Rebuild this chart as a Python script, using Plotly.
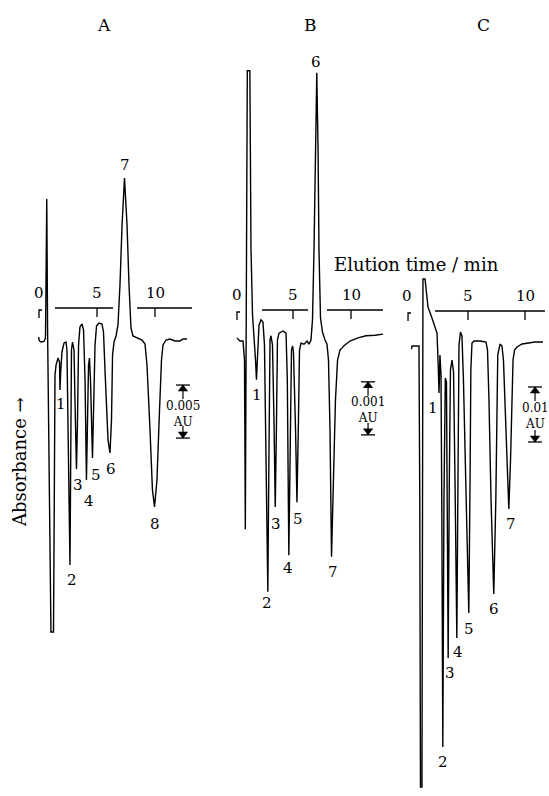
import plotly.graph_objects as go

# ---------------- data (time in min, absorbance in mAU relative to baseline) ----------------
# Panel A  (scale bar = 0.005 AU)
A_trace = [(-0.04, 0.28), (0.04, -0.09), (0.17, -0.19), (0.43, -0.14), (0.56, 0.19), (0.67, 13.30),
           (0.74, 0.94), (0.95, -24.53), (1.03, -27.55), (1.25, -27.55), (1.34, -10.38), (1.38, -3.30),
           (1.47, -2.36), (1.64, -1.70), (1.77, -2.08), (1.81, -4.72), (1.87, -3.02), (1.98, -1.13),
           (2.16, -0.28), (2.33, -0.19), (2.41, -0.94), (2.54, -10.38), (2.67, -21.23), (2.74, -10.38),
           (2.80, -0.94), (2.89, -0.19), (3.02, -0.94), (3.10, -5.66), (3.23, -12.17), (3.32, -7.55),
           (3.41, -0.47), (3.53, 1.23), (3.71, 1.51), (3.84, 0.94), (3.97, -3.77), (4.09, -13.21),
           (4.18, -8.49), (4.27, -2.36), (4.35, -1.70), (4.44, -3.77), (4.61, -11.13), (4.70, -7.55),
           (4.83, -0.47), (4.96, 1.32), (5.17, 1.60), (5.43, 1.51), (5.56, 0.75), (5.69, -2.83),
           (5.95, -9.43), (6.12, -10.66), (6.25, -7.55), (6.34, -1.42), (6.47, -0.19), (6.64, 0.38),
           (6.81, 1.42), (6.98, 5.19), (7.16, 10.85), (7.37, 15.28), (7.59, 10.85), (7.76, 5.19),
           (7.93, 1.13), (8.10, 0.38), (8.45, 0.19), (8.88, 0.00), (9.14, -0.38), (9.31, -2.36),
           (9.57, -8.49), (9.78, -14.15), (9.96, -15.75), (10.17, -13.21), (10.39, -6.60), (10.56, -1.89),
           (10.69, -0.47), (10.95, 0.00), (11.29, 0.09), (11.72, -0.09), (12.16, -0.09), (12.41, 0.09),
           (12.76, 0.09)]
A_peaks = ["1", "2", "3", "4", "5", "6", "7", "8"]
A_peak_time = [1.90, 2.84, 3.36, 4.31, 4.91, 6.21, 7.41, 10.00]
A_peak_abs = [-6.04, -22.64, -13.68, -15.19, -12.74, -12.17, 16.51, -17.36]

# Panel B  (scale bar = 0.001 AU)
B_trace = [(0.17, 0.04), (0.43, -0.02), (0.69, -0.02), (0.82, -0.38), (0.89, -3.57), (0.95, -1.13),
           (1.06, 5.08), (1.28, 5.08), (1.38, 1.70), (1.51, 0.47), (1.64, 0.09), (1.77, -0.38),
           (1.85, -0.75), (1.94, -0.28), (2.07, 0.28), (2.24, 0.38), (2.41, 0.34), (2.54, -0.09),
           (2.67, -2.08), (2.83, -4.75), (2.93, -2.08), (3.02, 0.00), (3.10, 0.08), (3.23, -0.09),
           (3.36, -1.51), (3.47, -3.15), (3.58, -1.51), (3.66, 0.00), (3.79, 0.13), (4.14, 0.17),
           (4.40, 0.13), (4.51, -0.75), (4.64, -4.06), (4.77, -1.13), (4.87, -0.19), (4.96, -0.11),
           (5.04, -0.23), (5.22, -1.70), (5.34, -3.06), (5.47, -1.51), (5.56, -0.19), (5.69, -0.06),
           (5.95, -0.08), (6.21, -0.02), (6.38, -0.08), (6.55, 0.00), (6.68, 0.38), (6.81, 1.70),
           (6.94, 3.58), (7.05, 5.04), (7.16, 3.58), (7.24, 1.70), (7.37, 0.42), (7.54, 0.15),
           (7.76, 0.00), (7.93, -0.08), (8.06, -0.38), (8.19, -1.70), (8.32, -4.09), (8.49, -2.64),
           (8.66, -1.13), (8.84, -0.38), (9.05, -0.19), (9.40, -0.11), (9.91, -0.02), (10.60, 0.04),
           (11.29, 0.08), (12.07, 0.09), (12.76, 0.11)]
B_peaks = ["1", "2", "3", "4", "5", "6", "7"]
B_peak_time = [1.90, 2.76, 3.53, 4.57, 5.43, 6.98, 8.45]
B_peak_abs = [-1.04, -4.96, -3.47, -4.30, -3.38, 5.25, -4.38]

# Panel C  (scale bar = 0.01 AU)
C_trace = [(0.04, -0.55), (0.09, 0.00), (0.70, 0.00), (0.77, -28.0), (0.83, -80.18), (0.96, -80.18),
           (1.01, -28.0), (1.05, 12.18), (1.23, 12.18), (1.32, 10.18), (1.49, 7.09), (1.84, 5.09),
           (2.11, 3.45), (2.28, 2.36), (2.37, -2.55), (2.46, -8.55), (2.54, -1.64), (2.63, -5.27),
           (2.70, -28.0), (2.79, -72.91), (2.89, -28.0), (3.01, -5.82), (3.11, -6.55), (3.18, -28.0),
           (3.26, -56.73), (3.36, -24.36), (3.46, -4.36), (3.60, -2.55), (3.73, -4.73), (3.86, -24.36),
           (4.02, -53.09), (4.12, -24.36), (4.21, 0.18), (4.34, 2.55), (4.47, 1.82), (4.60, -6.18),
           (4.78, -24.36), (5.07, -48.55), (5.18, -24.36), (5.25, -4.36), (5.35, 0.55), (5.53, 0.91),
           (6.05, 0.91), (6.58, 0.73), (6.71, -0.73), (6.84, -9.82), (7.02, -28.0), (7.26, -45.09),
           (7.44, -28.0), (7.53, -9.82), (7.61, -1.64), (7.81, 0.36), (7.98, 0.00), (8.11, -2.55),
           (8.25, -9.82), (8.42, -20.73), (8.58, -29.64), (8.73, -20.73), (8.86, -9.82), (8.95, -2.55),
           (9.08, -0.73), (9.30, -0.18), (9.74, 0.36), (10.18, 0.55), (10.88, 0.73), (11.58, 0.73)]
C_peaks = ["1", "2", "3", "4", "5", "6", "7"]
C_peak_time = [1.93, 2.81, 3.42, 4.12, 5.09, 7.28, 8.77]
C_peak_abs = [-11.27, -75.64, -59.45, -55.64, -51.45, -47.82, -32.36]

# time-axis tick labels and scale-bar labels
tick_values = [5, 10]
tick_text = ["5", "10"]
zero_text = "0"
panel_titles = ["A", "B", "C"]
scale_bar_mAU = [5, 1, 10]
scale_bar_text = ["0.005", "0.001", "0.01"]

# ---------------- layout / geometry ----------------
W, H = 549, 796
FONT = "DejaVu Serif"
panels = [
    dict(trace=A_trace, labels=A_peaks, lt=A_peak_time, lv=A_peak_abs,
         xr=[-3.362, 43.966], yr=[-43.019, 32.075],
         axis_v=3.02, segs=[(1.38, 6.38), (8.45, 13.19)], zero_t=0.0, mark_t=0.0,
         bar_t=12.41, bar_top=-4.25, title_x=104, title_y=25),
    dict(trace=B_trace, labels=B_peaks, lt=B_peak_time, lv=B_peak_abs,
         xr=[-20.259, 27.069], yr=[-8.604, 6.415],
         axis_v=0.566, segs=[(2.33, 6.29), (7.93, 12.76)], zero_t=0.17, mark_t=0.17,
         bar_t=11.47, bar_top=-0.79, title_x=310, title_y=25),
    dict(trace=C_trace, labels=C_peaks, lt=C_peak_time, lv=C_peak_abs,
         xr=[-36.053, 12.105], yr=[-81.818, 62.909],
         axis_v=6.36, segs=[(2.11, 11.75)], zero_t=-0.33, mark_t=-0.26,
         bar_t=10.88, bar_top=-7.45, title_x=483, title_y=25),
]

fig = go.Figure()
ann = []
LINE = dict(color="black", width=1.4)

for i, p in enumerate(panels):
    xa = "x" if i == 0 else f"x{i+1}"
    ya = "y" if i == 0 else f"y{i+1}"
    upx = (p["yr"][1] - p["yr"][0]) / H   # data units per pixel (y)
    mpx = (p["xr"][1] - p["xr"][0]) / W   # minutes per pixel (x)

    def add(xs, ys, **kw):
        d = dict(x=xs, y=ys, mode="lines", line=LINE, xaxis=xa, yaxis=ya,
                 hoverinfo="skip", showlegend=False)
        d.update(kw)
        fig.add_trace(go.Scatter(**d))

    # chromatogram
    add([t for t, v in p["trace"]], [v for t, v in p["trace"]])

    # time axis segments + ticks
    av = p["axis_v"]
    for s0, s1 in p["segs"]:
        add([s0, s1], [av, av], line=dict(color="black", width=1.3))
    for tv, tt in zip(tick_values, tick_text):
        add([tv, tv], [av, av - 9 * upx], line=dict(color="black", width=1.3))
        ann.append(dict(x=tv, y=av, xref=xa, yref=ya, text=tt, showarrow=False,
                        xanchor="center", yanchor="middle",
                        yshift=15, font=dict(family=FONT, size=15, color="black")))
    ann.append(dict(x=p["zero_t"], y=av, xref=xa, yref=ya, text=zero_text, showarrow=False,
                    xanchor="center", yanchor="middle",
                    yshift=15, font=dict(family=FONT, size=15, color="black")))
    # injection mark
    mt = p["mark_t"]
    add([mt + 3 * mpx, mt, mt], [av - 2 * upx, av - 2 * upx, av - 10 * upx],
        line=dict(color="black", width=1.3))

    # peak labels
    for lab, t, v in zip(p["labels"], p["lt"], p["lv"]):
        ann.append(dict(x=t, y=v, xref=xa, yref=ya, text=lab, showarrow=False,
                        xanchor="center", yanchor="middle",
                        font=dict(family=FONT, size=15, color="black")))

    # scale bar
    bt, top, hgt = p["bar_t"], p["bar_top"], scale_bar_mAU[i]
    bot = top - hgt
    hw = 7 * mpx
    add([bt - hw, bt + hw], [top, top], line=dict(color="black", width=1.3))
    add([bt - hw, bt + hw], [bot, bot], line=dict(color="black", width=1.3))
    add([bt, bt], [top, top - 14 * upx], line=dict(color="black", width=1.2))
    add([bt, bt], [bot, bot + 12 * upx], line=dict(color="black", width=1.2))
    add([bt], [top - 4 * upx], mode="markers",
        marker=dict(symbol="triangle-up", size=9, color="black"))
    add([bt], [bot + 4 * upx], mode="markers",
        marker=dict(symbol="triangle-down", size=9, color="black"))
    ann.append(dict(x=bt, y=(top + bot) / 2, xref=xa, yref=ya,
                    text=scale_bar_text[i] + "<br>AU", showarrow=False,
                    xanchor="center", yanchor="middle", yshift=-2,
                    font=dict(family=FONT, size=12, color="black")))

    # panel letter
    ann.append(dict(x=p["title_x"] / W, y=1 - p["title_y"] / H, xref="paper", yref="paper",
                    text=panel_titles[i], showarrow=False,
                    xanchor="center", yanchor="middle",
                    font=dict(family=FONT, size=17, color="black")))

ann.append(dict(x=416 / W, y=1 - 264 / H, xref="paper", yref="paper",
                text="Elution time / min", showarrow=False,
                xanchor="center", yanchor="middle",
                font=dict(family=FONT, size=18, color="black")))
ann.append(dict(x=19 / W, y=1 - 462 / H, xref="paper", yref="paper",
                text="Absorbance \u2192", showarrow=False, textangle=-90,
                xanchor="center", yanchor="middle",
                font=dict(family=FONT, size=18, color="black")))

layout = dict(width=W, height=H, margin=dict(l=0, r=0, t=0, b=0),
              paper_bgcolor="white", plot_bgcolor="rgba(0,0,0,0)",
              showlegend=False, annotations=ann)
for i, p in enumerate(panels):
    sx = "" if i == 0 else str(i + 1)
    layout["xaxis" + sx] = dict(domain=[0, 1], range=p["xr"], visible=False,
                                fixedrange=True, anchor="y" + sx)
    layout["yaxis" + sx] = dict(domain=[0, 1], range=p["yr"], visible=False,
                                fixedrange=True, anchor="x" + sx)
fig.update_layout(**layout)

fig.write_html("out.html", config={"displayModeBar": False, "staticPlot": True},
               post_script="document.body.style.margin='0px';")
